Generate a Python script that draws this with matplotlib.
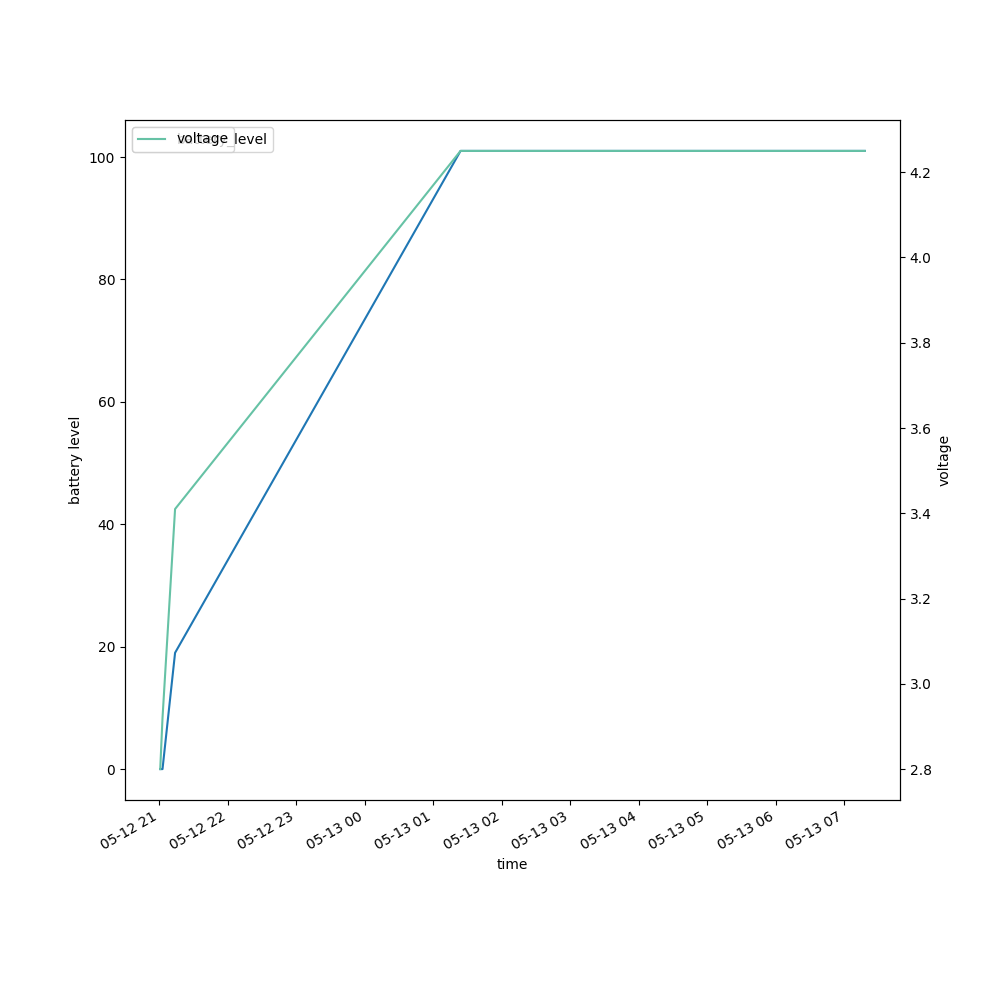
import matplotlib
matplotlib.use('Agg')
import matplotlib.pyplot as plt
import pandas as pd

# readings
times = pd.to_datetime([
    '2023-05-12 21:01',
    '2023-05-12 21:03',
    '2023-05-12 21:14',
    '2023-05-13 01:24',
    '2023-05-13 07:18',
])
battery_level = [0, 0, 19, 101, 101]
voltage = [2.80, 2.92, 3.41, 4.25, 4.25]

fig, ax1 = plt.subplots(figsize=(10, 10))
ax1.plot(times, battery_level, color='#1f77b4', label='battery_level')
ax1.set_xlabel('time')
ax1.set_ylabel('battery level')
ax1.legend(loc='upper left')

ax2 = ax1.twinx()
ax2.plot(times, voltage, color='#66c2a5', label='voltage')
ax2.set_ylabel('voltage')
ax2.legend(loc='upper left')

fig.autofmt_xdate()
plt.savefig('out.png', dpi=100)
